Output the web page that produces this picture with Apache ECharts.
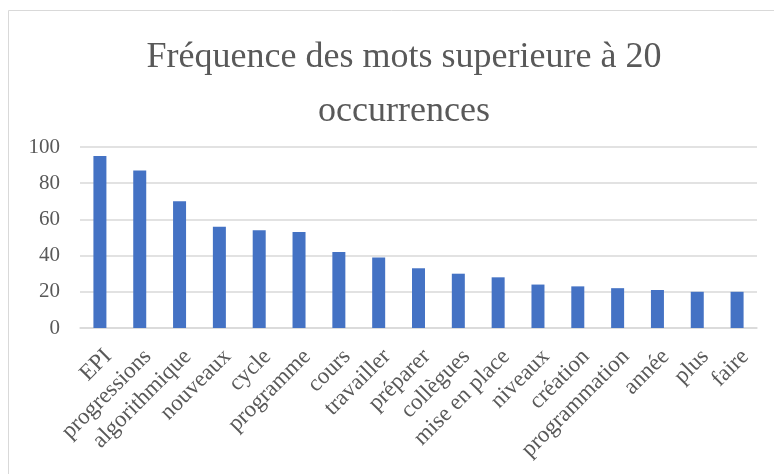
<!DOCTYPE html>
<html>
<head>
<meta charset="utf-8">
<script src="https://cdn.jsdelivr.net/npm/echarts@6/dist/echarts.min.js"></script>
<style>
  html, body { margin: 0; padding: 0; background: #fff; }
  #chart { width: 774px; height: 474px; }
</style>
</head>
<body>
<div id="chart"></div>
<script>
  var titleText = 'Fréquence des mots superieure à 20\noccurrences';
  var mots = ['EPI', 'progressions', 'algorithmique', 'nouveaux', 'cycle', 'programme', 'cours',
    'travailler', 'préparer', 'collègues', 'mise en place', 'niveaux', 'création',
    'programmation', 'année', 'plus', 'faire'];
  var frequences = [95, 87, 70, 56, 54, 53, 42, 39, 33, 30, 28, 24, 23, 22, 21, 20, 20];
  var yMin = 0, yMax = 100, yStep = 20;

  var serif = '"Liberation Serif", "DejaVu Serif", serif';
  var myChart = echarts.init(document.getElementById('chart'));
  myChart.setOption({
    animation: false,
    title: {
      text: titleText,
      left: 399,
      top: 26,
      textAlign: 'center',
      textStyle: {
        fontFamily: serif,
        fontWeight: 'normal',
        fontSize: 36,
        lineHeight: 54,
        color: '#595959'
      }
    },
    graphic: [{
      type: 'rect',
      shape: { x: 8.5, y: 10.5, width: 800, height: 500 },
      style: { fill: 'none', stroke: '#d9d9d9', lineWidth: 1 },
      silent: true
    }],
    grid: {
      left: 80,
      right: 17,
      top: 147,
      bottom: 146,
      containLabel: false
    },
    xAxis: {
      type: 'category',
      data: mots,
      axisLine: { show: true, lineStyle: { color: '#d9d9d9', width: 1.5 } },
      axisTick: { show: false },
      axisLabel: {
        interval: 0,
        rotate: 45,
        margin: 17,
        verticalAlign: 'top',
        fontFamily: serif,
        fontSize: 23,
        color: '#595959'
      }
    },
    yAxis: {
      type: 'value',
      min: yMin,
      max: yMax,
      interval: yStep,
      axisLine: { show: false },
      axisTick: { show: false },
      splitLine: { lineStyle: { color: '#d9d9d9', width: 1.5 } },
      axisLabel: {
        margin: 20,
        fontFamily: serif,
        fontSize: 21,
        color: '#595959'
      }
    },
    series: [{
      type: 'bar',
      data: frequences,
      barWidth: 13,
      itemStyle: { color: '#4472C4' }
    }]
  });
</script>
</body>
</html>
